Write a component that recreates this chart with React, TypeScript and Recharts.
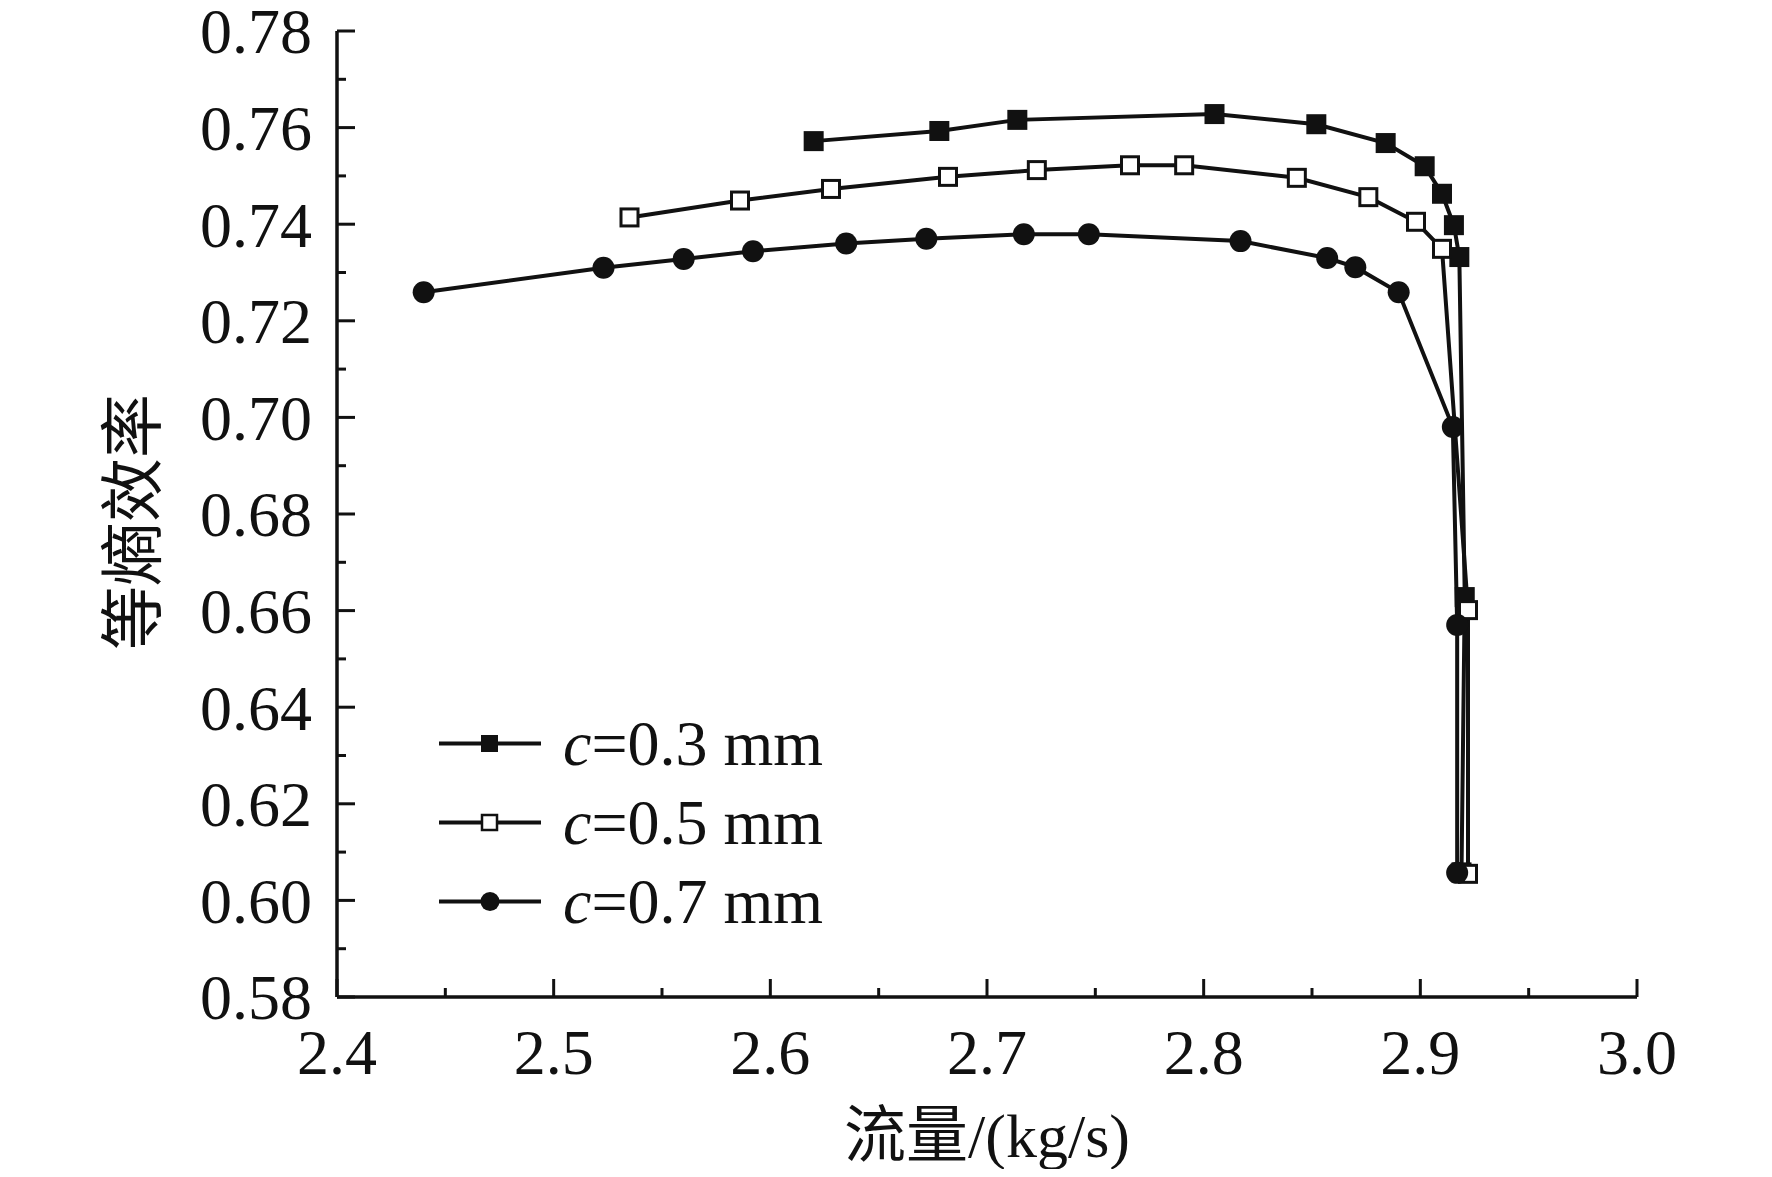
import { LineChart, Line, XAxis, YAxis, Label } from "recharts"

// flow rate (kg/s) and isentropic efficiency for each clearance
const flow03 = [2.62, 2.678, 2.714, 2.805, 2.852, 2.884, 2.902, 2.91, 2.9155, 2.918, 2.9205, 2.919]
const eff03 = [0.7572, 0.7593, 0.7616, 0.7628, 0.7607, 0.7568, 0.752, 0.7463, 0.7398, 0.7332, 0.6628, 0.6058]

const flow05 = [2.535, 2.586, 2.628, 2.682, 2.723, 2.766, 2.791, 2.843, 2.876, 2.898, 2.91, 2.922, 2.922]
const eff05 = [0.7414, 0.7449, 0.7473, 0.7498, 0.7512, 0.7522, 0.7522, 0.7496, 0.7456, 0.7405, 0.7349, 0.6601, 0.6055]

const flow07 = [2.44, 2.523, 2.56, 2.592, 2.635, 2.672, 2.717, 2.747, 2.817, 2.857, 2.87, 2.89, 2.915, 2.917, 2.917]
const eff07 = [0.7259, 0.731, 0.7328, 0.7344, 0.736, 0.737, 0.7379, 0.7379, 0.7365, 0.733, 0.7311, 0.7259, 0.698, 0.657, 0.6057]

const seriesNames = ["0.3 mm", "0.5 mm", "0.7 mm"]

const xMajor = [2.4, 2.5, 2.6, 2.7, 2.8, 2.9, 3.0]
const xMinor = [2.45, 2.55, 2.65, 2.75, 2.85, 2.95]
const yMajor = [0.58, 0.6, 0.62, 0.64, 0.66, 0.68, 0.7, 0.72, 0.74, 0.76, 0.78]
const yMinor = [0.59, 0.61, 0.63, 0.65, 0.67, 0.69, 0.71, 0.73, 0.75, 0.77]

const toRows = (xs: number[], ys: number[]) => xs.map((x, i) => ({ x, y: ys[i] }))
const data03 = toRows(flow03, eff03)
const data05 = toRows(flow05, eff05)
const data07 = toRows(flow07, eff07)

const INK = "#111"
const FONT = "'Liberation Serif', 'Times New Roman', serif"
const CJK = "'Liberation Serif', 'Noto Sans CJK SC', serif"

const isMajor = (majors: number[], v: number) => majors.some((m) => Math.abs(m - v) < 1e-6)

function makeTick(side: "left" | "right" | "top" | "bottom") {
  return (props: any) => {
    const { x, y, payload } = props
    const v = payload.value
    const majors = side === "left" || side === "right" ? yMajor : xMajor
    const major = isMajor(majors, v)
    const len = major ? 18 : 9
    let line
    if (side === "left") line = <line x1={x} x2={x + len} y1={y} y2={y} />
    else if (side === "right") line = <line x1={x - len} x2={x} y1={y} y2={y} />
    else if (side === "bottom") line = <line x1={x} x2={x} y1={y - len} y2={y} />
    else line = <line x1={x} x2={x} y1={y} y2={y + len} />
    return (
      <g>
        <g stroke={INK} strokeWidth={3}>{line}</g>
        {major && side === "left" && (
          <text x={x - 25} y={y} dy="0.35em" textAnchor="end" fontFamily={FONT} fontSize={64} fill={INK}>
            {v.toFixed(2)}
          </text>
        )}
        {major && side === "bottom" && (
          <text x={x} y={y + 77} textAnchor="middle" fontFamily={FONT} fontSize={64} fill={INK}>
            {v.toFixed(1)}
          </text>
        )}
      </g>
    )
  }
}

const filledSquare = (props: any) => (
  <rect key={`fs-${props.index}`} x={props.cx - 10} y={props.cy - 10} width={20} height={20} fill={INK} />
)
const openSquare = (props: any) => (
  <rect key={`os-${props.index}`} x={props.cx - 8.5} y={props.cy - 8.5} width={17} height={17} fill="#fff" stroke={INK} strokeWidth={3} />
)
const filledCircle = (props: any) => (
  <circle key={`fc-${props.index}`} cx={props.cx} cy={props.cy} r={11} fill={INK} />
)

function LegendMarker({ kind }: { kind: number }) {
  return (
    <svg width={102} height={79} style={{ display: "block" }}>
      <line x1={0} x2={102} y1={39.5} y2={39.5} stroke={INK} strokeWidth={4} />
      {kind === 0 && <rect x={42} y={31} width={17} height={17} fill={INK} />}
      {kind === 1 && <rect x={43} y={32} width={15} height={15} fill="#fff" stroke={INK} strokeWidth={2.5} />}
      {kind === 2 && <circle cx={51} cy={39.5} r={9.5} fill={INK} />}
    </svg>
  )
}

function LegendBox() {
  return (
    <div style={{ position: "absolute", left: 431, top: 696 }}>
      {seriesNames.map((name, i) => (
        <div key={name} style={{ display: "flex", alignItems: "center", height: 79 }}>
          <LegendMarker kind={i} />
          <span style={{ marginLeft: 22, fontFamily: FONT, fontSize: 64, lineHeight: "79px", color: INK, whiteSpace: "nowrap" }}>
            <i>c</i>={name}
          </span>
        </div>
      ))}
    </div>
  )
}

export default function App() {
  return (
    <div style={{ position: "relative", width: 1756, height: 1161 }}>
      <LineChart width={1756} height={1161} margin={{ top: 23, right: 127, bottom: 0, left: 0 }}>
        <XAxis
          dataKey="x"
          type="number"
          domain={[2.4, 3.0]}
          ticks={[...xMajor, ...xMinor]}
          interval={0}
          allowDataOverflow
          height={172}
          tickSize={0}
          tickMargin={0}
          tickLine={false}
          tick={makeTick("bottom")}
          axisLine={{ stroke: INK, strokeWidth: 3.5 }}
        >
          <Label
            content={() => (
              <text x={979} y={1149} textAnchor="middle" fontFamily={CJK} fontSize={62} fill={INK}>
                流量/(kg/s)
              </text>
            )}
          />
        </XAxis>
        <XAxis
          xAxisId="top"
          orientation="top"
          type="number"
          domain={[2.4, 3.0]}
          ticks={[...xMajor, ...xMinor]}
          interval={0}
          height={0}
          tickSize={0}
          tickMargin={0}
          tickLine={false}
          tick={makeTick("top")}
          axisLine={{ stroke: INK, strokeWidth: 3.5 }}
        />
        <YAxis
          type="number"
          domain={[0.58, 0.78]}
          ticks={[...yMajor, ...yMinor]}
          interval={0}
          allowDataOverflow
          width={329}
          tickSize={0}
          tickMargin={0}
          tickLine={false}
          tick={makeTick("left")}
          axisLine={{ stroke: INK, strokeWidth: 3.5 }}
        >
          <Label
            content={() => (
              <text
                x={119}
                y={514}
                transform="rotate(-90, 119, 514)"
                textAnchor="middle"
                dominantBaseline="central"
                fontFamily="'Noto Sans CJK SC', sans-serif"
                fontSize={64}
                fill={INK}
              >
                等熵效率
              </text>
            )}
          />
        </YAxis>
        <YAxis
          yAxisId="right"
          orientation="right"
          type="number"
          domain={[0.58, 0.78]}
          ticks={[...yMajor, ...yMinor]}
          interval={0}
          width={0}
          tickSize={0}
          tickMargin={0}
          tickLine={false}
          tick={makeTick("right")}
          axisLine={{ stroke: INK, strokeWidth: 3.5 }}
        />
        <Line data={data03} dataKey="y" type="linear" stroke={INK} strokeWidth={4} dot={filledSquare} activeDot={false} isAnimationActive={false} />
        <Line data={data05} dataKey="y" type="linear" stroke={INK} strokeWidth={4} dot={openSquare} activeDot={false} isAnimationActive={false} />
        <Line data={data07} dataKey="y" type="linear" stroke={INK} strokeWidth={4} dot={filledCircle} activeDot={false} isAnimationActive={false} />
      </LineChart>
      <LegendBox />
    </div>
  )
}
